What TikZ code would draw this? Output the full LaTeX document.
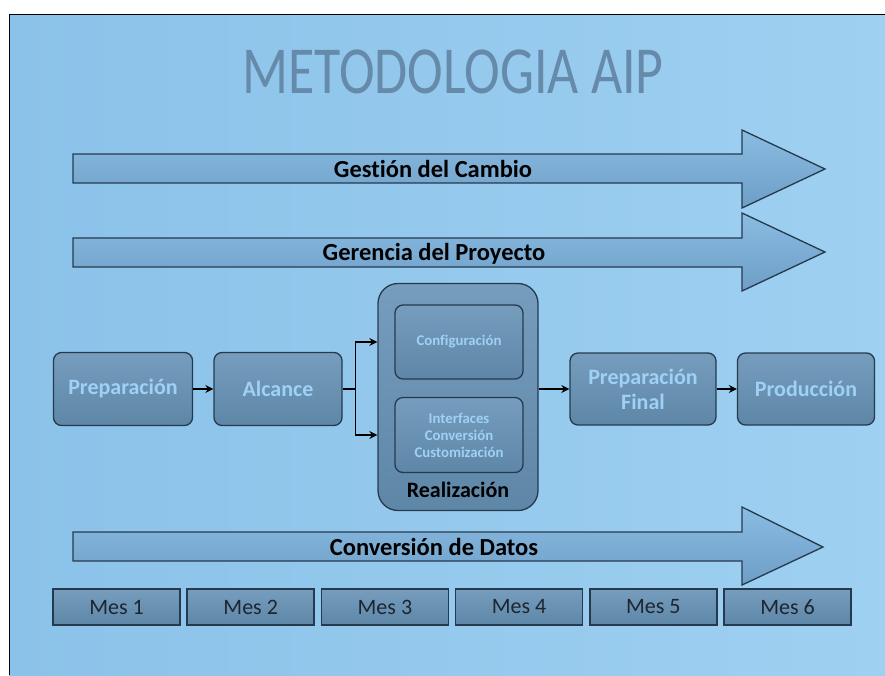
\documentclass[tikz,border=0pt]{standalone}
\usepackage{fontspec}
\setmainfont{Carlito}[Ligatures=NoCommon]
\usepackage{graphicx}
\usetikzlibrary{arrows.meta,positioning}

\definecolor{slideL}{RGB}{139,194,233}
\definecolor{slideR}{RGB}{158,208,241}
\definecolor{boxTop}{RGB}{118,157,190}
\definecolor{boxBot}{RGB}{94,134,167}
\definecolor{boxEdge}{RGB}{38,58,78}
\definecolor{boxText}{RGB}{158,209,245}
\definecolor{bandTop}{RGB}{138,188,226}
\definecolor{bandBot}{RGB}{110,158,198}
\definecolor{titleCol}{RGB}{102,138,170}

\begin{document}
\begin{tikzpicture}[x=1pt, y=-1pt,
	phase/.style={draw=boxEdge, line width=1.3pt, rounded corners=8pt, top color=boxTop, bottom color=boxBot, text=boxText, align=center, font=\fontsize{22}{25}\selectfont\bfseries},
	subphase/.style={phase, font=\fontsize{14.8}{17}\selectfont\bfseries},
	band/.style={draw=boxEdge, line width=1.3pt, top color=bandTop, bottom color=bandBot},
	bandlabel/.style={anchor=base, text=black, font=\fontsize{24.5}{27}\selectfont\bfseries},
	month/.style={draw=boxEdge, line width=1.6pt, top color=boxTop, bottom color=boxBot, minimum width=127pt, minimum height=36pt, text={rgb,255:red,28;green,38;blue,48}, font=\fontsize{22}{24}\selectfont},
	flow/.style={line width=1.6pt, -{Stealth[length=8pt,width=8pt]}}]
		%%%%% START %%%%%
		
		\useasboundingbox (0,0) rectangle (885,675);
		\fill[white] (0,0) rectangle (885,675);
		\shade[left color=slideL, right color=slideR] (9,14) rectangle (885,675);
		\draw[line width=1pt] (9,675) -- (9,14) -- (885,14);
		
		\node[text=titleCol, font=\fontsize{53.8}{60}\selectfont] (title) at (453,72) {\scalebox{1}[1.25]{METODOLOGIA AIP}};
		
		% bands
		\draw[band] (73,154) -- (742,154) -- (742,130) -- (825,169) -- (742,208) -- (742,183) -- (73,183) -- cycle;
		\node[bandlabel] (gestion) at (433,177) {Gestión del Cambio};
		
		\draw[band] (73,238) -- (742,238) -- (742,213) -- (825,252) -- (742,291) -- (742,267) -- (73,267) -- cycle;
		\node[bandlabel] (gerencia) at (434,260) {Gerencia del Proyecto};
		
		\draw[band] (73,532) -- (742,532) -- (742,507) -- (823,547) -- (742,585) -- (742,561) -- (73,561) -- cycle;
		\node[bandlabel] (conversion) at (434,555) {Conversión de Datos};
		
		% phases
		\node[phase, minimum width=139pt, minimum height=73pt] (prep) at (123,389) {Preparación};
		\node[phase, minimum width=128pt, minimum height=73pt] (alcance) at (278,389) {Alcance};
		
		\node[phase, rounded corners=20pt, minimum width=160pt, minimum height=227pt] (real) at (458,397) {};
		\node[subphase, minimum width=128pt, minimum height=74pt] (config) at (459,342) {Configuración};
		\node[subphase, minimum width=128pt, minimum height=75pt] (interf) at (459,435) {Interfaces\\Conversión\\Customización};
		\node[anchor=base, font=\fontsize{22}{24}\selectfont\bfseries] (reallabel) at (458,497) {Realización};
		
		\node[phase, minimum width=146pt, minimum height=72pt] (prepfinal) at (643,389) {Preparación\\Final};
		\node[phase, minimum width=137pt, minimum height=72pt] (prod) at (806,389) {Producción};
		
		% connectors
		\draw[flow] (prep) -- (alcance);
		\draw[line width=1.6pt] (alcance.east) -- ++(13,0) coordinate (split);
		\draw[flow] (split) |- (real.west |- config);
		\draw[flow] (split) |- (real.west |- interf);
		\draw[flow] (real.east |- prepfinal.west) -- (prepfinal.west);
		\draw[flow] (prepfinal) -- (prod);
		
		% months
		\node[month] (mes1) at (116.5,607) {Mes 1};
		\node[month] (mes2) at (250.7,607) {Mes 2};
		\node[month] (mes3) at (384.9,607) {Mes 3};
		\node[month] (mes4) at (519.1,607) {Mes 4};
		\node[month] (mes5) at (653.3,607) {Mes 5};
		\node[month] (mes6) at (787.5,607) {Mes 6};
		
		%%%%% END %%%%%
\end{tikzpicture}
\end{document}
